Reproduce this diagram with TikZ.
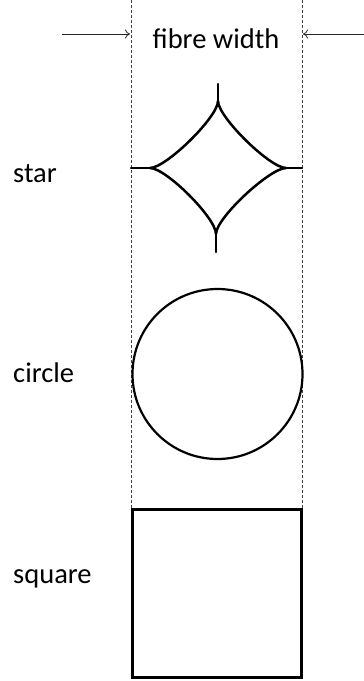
\documentclass[tikz,border=0pt]{standalone}
\usepackage{fontspec}
\setmainfont{Carlito}
\usetikzlibrary{arrows.meta}
\begin{document}
\begin{tikzpicture}[x=1pt,y=-1pt,
  lbl/.style={inner sep=0pt,anchor=base west,font=\fontsize{28.5}{32}\selectfont,text=black},
  guide/.style={draw=black!75,line width=0.8pt,dash pattern=on 3pt off 2pt},
  pointer/.style={draw=black!85,line width=0.8pt,-{To[length=5pt,width=9pt]}},
  shapeline/.style={draw=black,line width=2.5pt}]
\useasboundingbox (0,0) rectangle (364,681);
% guides
\coordinate (gl1) at (131,0);
\coordinate (gl2) at (131,509);
\coordinate (gr1) at (302,0);
\coordinate (gr2) at (302,509);
\draw[guide] (gl1) -- (gl2);
\draw[guide] (gr1) -- (gr2);
% arrows
\coordinate (al0) at (62,34);
\coordinate (al1) at (130,34);
\coordinate (ar0) at (364,34);
\coordinate (ar1) at (303,34);
\draw[pointer] (al0) -- (al1);
\draw[pointer] (ar0) -- (ar1);
\node[inner sep=0pt,anchor=base,font=\fontsize{28.5}{32}\selectfont,text=black] (fw) at (216,48) {fibre width};
% labels
\node[lbl] (lstar) at (13,182) {star};
\node[lbl] (lcircle) at (13,382) {circle};
\node[lbl] (lsquare) at (13,583) {square};
% star
\coordinate (sL) at (131,168);
\coordinate (sLi) at (150,168);
\coordinate (sR) at (302,168);
\coordinate (sRi) at (286,168);
\coordinate (sT) at (218,84);
\coordinate (sTi) at (218,101);
\coordinate (sB) at (216,252);
\coordinate (sBi) at (216,234);
\draw[shapeline,line cap=round] (sL) -- (sLi);
\draw[shapeline,line cap=round] (sRi) -- (sR);
\draw[shapeline,line cap=round] (sT) -- (sTi);
\draw[shapeline,line cap=round] (sBi) -- (sB);
\draw[shapeline] (sLi) .. controls (166,168) and (218,117) .. (sTi);
\draw[shapeline] (sTi) .. controls (218,117) and (270,168) .. (sRi);
\draw[shapeline] (sRi) .. controls (270,168) and (216,218) .. (sBi);
\draw[shapeline] (sBi) .. controls (216,218) and (166,168) .. (sLi);
% circle
\node[draw=black,line width=2.2pt,circle,minimum size=170pt,inner sep=0pt] (circ) at (217.5,374) {};
% square
\node[draw=black,line width=2.4pt,rectangle,minimum width=169pt,minimum height=168pt,inner sep=0pt] (sq) at (217,593.5) {};
\end{tikzpicture}
\end{document}
